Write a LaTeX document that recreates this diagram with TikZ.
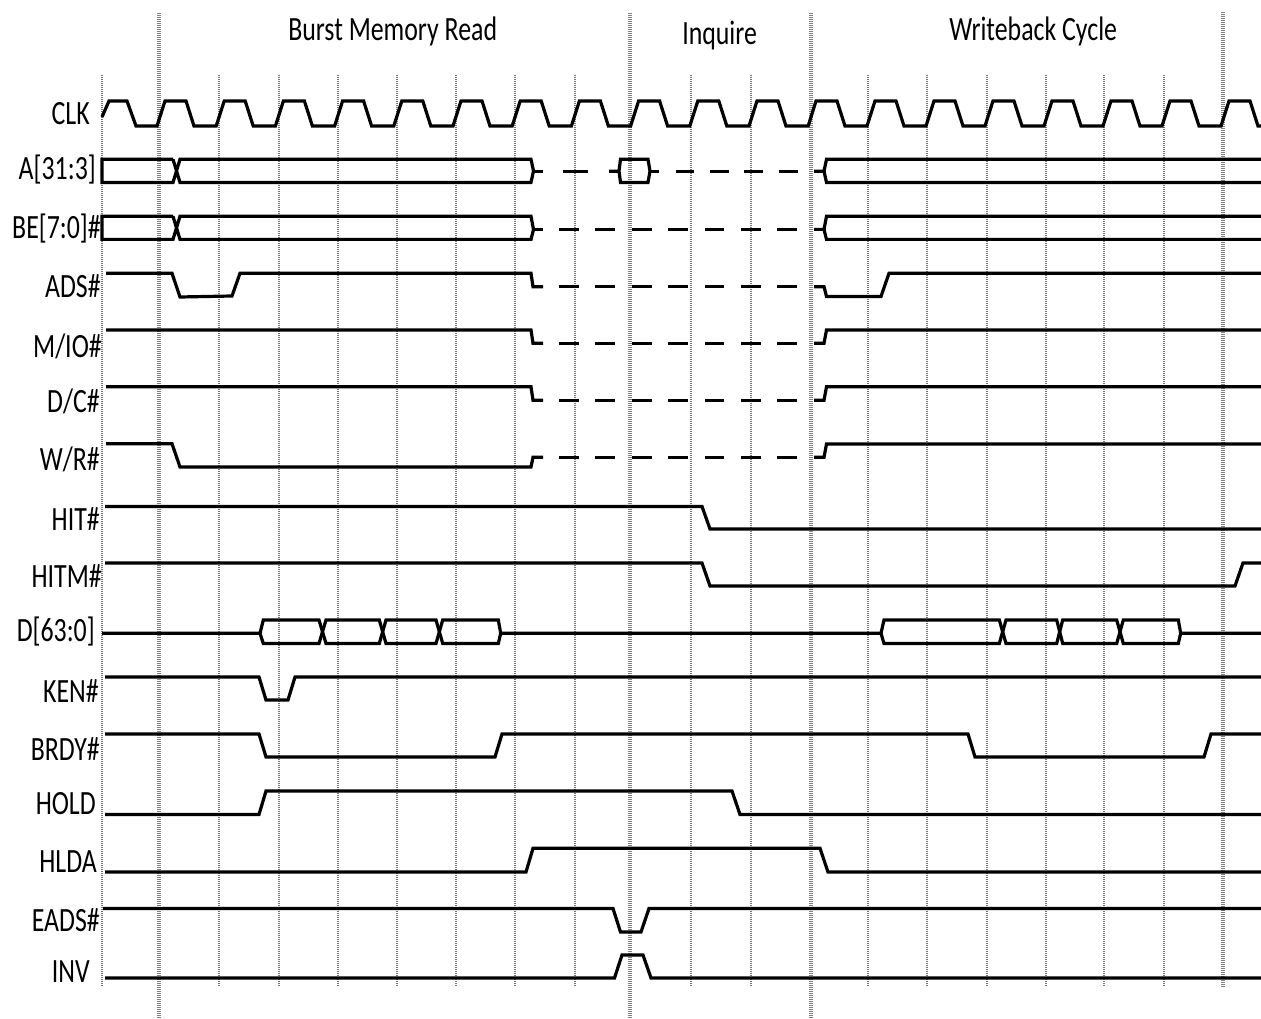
\documentclass[tikz,border=0pt]{standalone}
\usepackage{fontspec}
\setmainfont[FakeStretch=0.76]{Carlito}
\tikzset{
  x=0.75pt,y=-0.75pt,
  sig/.style={line width=2.4pt,line cap=butt,line join=miter,miter limit=4,black},
  gridthin/.style={line width=1.2pt,color=black!55,dash pattern=on 0.75pt off 0.75pt},
  gridthick/.style={line width=2.6pt,color=black!50,dash pattern=on 0.75pt off 0.75pt},
  lab/.style={anchor=base east,inner sep=0pt,yshift=-0.75pt,font=\fontsize{25.5pt}{28pt}\selectfont},
  ttl/.style={anchor=base west,inner sep=0pt,yshift=-0.75pt,font=\fontsize{25.5pt}{28pt}\selectfont},
}
\newcommand{\dashesAt}[1]{%
  \foreach \a/\b in {559/579,595/615,632/652,668/688,705/724,741/761,777/797}
    \draw[sig] (\a,#1) -- (\b,#1);}
\begin{document}
\begin{tikzpicture}
\useasboundingbox (0,0) rectangle (1261,1019);
% grid
\foreach \x in {102,219,279,338,397,456,515,575,691,751,868,927,987,1046,1104,1164}
  \draw[gridthin] (\x,75) -- (\x,987);
\foreach \x in {159,630,811}
  \draw[gridthick] (\x,13) -- (\x,1019);
\draw[gridthick] (1223,12) -- (1223,987);
% titles
\node[ttl] (t1) at (288,40) {Burst Memory Read};
\node[ttl] (t2) at (682,44) {Inquire};
\node[ttl] (t3) at (949,40) {Writeback Cycle};
% labels
\node[lab] (lclk) at (90,124) {CLK};
\node[lab] (la) at (96,179) {A[31:3]};
\node[lab] (lbe) at (101,238) {BE[7:0]\#};
\node[lab] (lads) at (101,297) {ADS\#};
\node[lab] (lmio) at (102,357) {M/IO\#};
\node[lab] (ldc) at (100,412) {D/C\#};
\node[lab] (lwr) at (100,470) {W/R\#};
\node[lab] (lhit) at (100,530) {HIT\#};
\node[lab] (lhitm) at (102,587) {HITM\#};
\node[lab] (ld) at (95,641) {D[63:0]};
\node[lab] (lken) at (99,701) {KEN\#};
\node[lab] (lbrdy) at (100,759) {BRDY\#};
\node[lab] (lhold) at (96,813) {HOLD};
\node[lab] (lhlda) at (97,871) {HLDA};
\node[lab] (leads) at (100,930) {EADS\#};
\node[lab] (linv) at (90,981) {INV};
% CLK
\draw[sig] (102,117) -- (109,101) -- (127,101) -- (136,126) -- (157,126)
  \foreach \k in {0,...,10} { -- ({157+59.2*\k+8},101) -- ({157+59.2*\k+29},101) -- ({157+59.2*\k+37},126) -- ({157+59.2*(\k+1)},126) }
  \foreach \k in {0,...,6} { -- ({808+59*\k+8},101) -- ({808+59*\k+29},101) -- ({808+59*\k+37},126) -- ({808+59*(\k+1)},126) }
  -- (1229,101) -- (1250,101) -- (1258,126) -- (1261,126);
% A[31:3]
\draw[sig] (173,159.3) -- (102,159.3) -- (102,182.5) -- (173,182.5) -- (180,159.3) -- (531,159.3) -- (533.5,171) -- (531,182.5) -- (180,182.5) -- (173,159.3);
\draw[sig] (533.5,171.2) -- (543,171.2);
\draw[sig] (563,171.2) -- (588,171.2);
\draw[sig] (609,171.2) -- (619,171.2) -- (620.5,159.3) -- (648,159.3) -- (650,171.2) -- (648,182.5) -- (620.5,182.5) -- (619,171.2);
\draw[sig] (650,171.2) -- (659,171.2);
\foreach \a/\b in {676/694,710/729,744/763,779/798}
  \draw[sig] (\a,171.2) -- (\b,171.2);
\draw[sig] (814,171.2) -- (824,171.2) -- (826.5,159.3) -- (1261,159.3);
\draw[sig] (824,171.2) -- (826.5,182.5) -- (1261,182.5);
% BE
\draw[sig] (173,216.3) -- (102,216.3) -- (102,239.4) -- (173,239.4) -- (180,216.3) -- (531,216.3) -- (533.5,229.4) -- (531,239.4) -- (180,239.4) -- (173,216.3);
\draw[sig] (533.5,229.4) -- (543,229.4);
\dashesAt{229.4}
\draw[sig] (814,229.4) -- (824,229.4) -- (826.5,216.3) -- (1261,216.3);
\draw[sig] (824,229.4) -- (826.5,239.4) -- (1261,239.4);
% ADS
\draw[sig] (106,273.3) -- (172,273.3) -- (180,297) -- (232,296) -- (240,273.3) -- (531,273.3) -- (533,286.7) -- (543,286.7);
\dashesAt{286.7}
\draw[sig] (814,286.7) -- (824,286.7) -- (826.5,296.5) -- (881,296.5) -- (889,273.3) -- (1261,273.3);
% M/IO
\draw[sig] (106,330) -- (531,330) -- (533,343.3) -- (543,343.3);
\dashesAt{343.3}
\draw[sig] (814,343.3) -- (824,343.3) -- (826.5,330) -- (1261,330);
% D/C
\draw[sig] (106,386.7) -- (531,386.7) -- (533,400.3) -- (543,400.3);
\dashesAt{400.3}
\draw[sig] (814,400.3) -- (824,400.3) -- (826.5,386.7) -- (1261,386.7);
% W/R
\draw[sig] (106,443.7) -- (172,443.7) -- (180,467) -- (531,467) -- (533,457.3) -- (543,457.3);
\dashesAt{457.3}
\draw[sig] (814,457.3) -- (824,457.3) -- (826.5,444) -- (1261,444);
% HIT, HITM
\draw[sig] (105,506.5) -- (702,506.5) -- (710,529) -- (1261,529);
\draw[sig] (105,563) -- (702,563) -- (710,586) -- (1235,586) -- (1243,563) -- (1261,563);
% D
\draw[sig] (102,633.3) -- (260,633.3) -- (263.3,620) -- (319,620) -- (326,643.5) -- (379.3,643.5) -- (386,620) -- (436,620) -- (442.7,643.5) -- (498.3,643.5) -- (500.7,633.3) -- (881,633.3) -- (884,620) -- (999.3,620) -- (1006,643.5) -- (1056.7,643.5) -- (1062.7,620) -- (1116.7,620) -- (1123.3,643.5) -- (1178.3,643.5) -- (1180.7,633.3) -- (1261,633.3);
\draw[sig] (260,633.3) -- (263.3,643.5) -- (319,643.5) -- (326,620) -- (379.3,620) -- (386,643.5) -- (436,643.5) -- (442.7,620) -- (498.3,620) -- (500.7,633.3);
\draw[sig] (881,633.3) -- (884,643.5) -- (999.3,643.5) -- (1006,620) -- (1056.7,620) -- (1062.7,643.5) -- (1116.7,643.5) -- (1123.3,620) -- (1178.3,620) -- (1180.7,633.3);
% KEN, BRDY, HOLD, HLDA, EADS, INV
\draw[sig] (105,677) -- (259,677) -- (266,700) -- (288,700) -- (295,677) -- (1261,677);
\draw[sig] (105,734) -- (259,734) -- (266,757) -- (495,757) -- (502,734) -- (968,734) -- (975,757) -- (1204,757) -- (1211,734) -- (1261,734);
\draw[sig] (105,814.5) -- (259,814.5) -- (266,791) -- (732,791) -- (740,814.5) -- (1261,814.5);
\draw[sig] (105,872) -- (526,872) -- (533,848.3) -- (820,848.3) -- (828,872) -- (1261,872);
\draw[sig] (103,908.5) -- (613,908.5) -- (620.5,932) -- (641,932) -- (649,908.5) -- (1261,908.5);
\draw[sig] (105,978) -- (614.5,978) -- (622,955) -- (643,955) -- (651,978) -- (1261,978);
\end{tikzpicture}
\end{document}
